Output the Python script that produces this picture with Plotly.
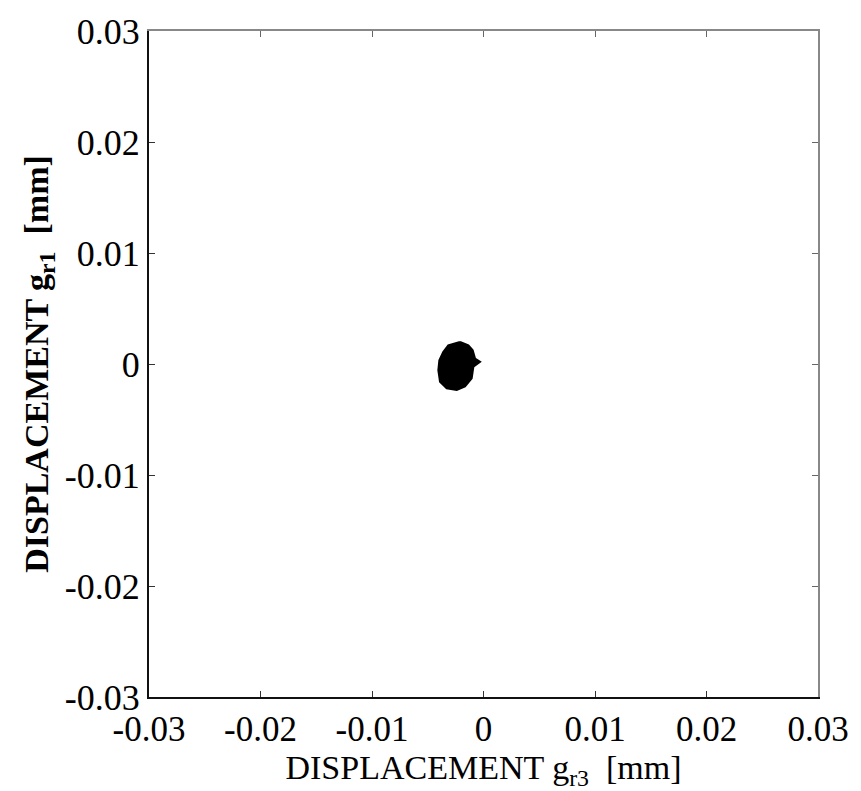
import plotly.graph_objects as go

# Outline of the orbit trace (displacements in mm), traced around its edge
orbit_x = [-0.00211, -0.00316, -0.00361, -0.00396, -0.00405, -0.00390, -0.00330,
           -0.00240, -0.00166, -0.00106, -0.00091, -0.00031, -0.00076, -0.00097,
           -0.00136, -0.00211]
orbit_y = [0.00198, 0.00168, 0.00109, 0.00034, -0.00055, -0.00159, -0.00218,
           -0.00234, -0.00203, -0.00129, -0.00025, 0.00020, 0.00049, 0.00123,
           0.00168, 0.00198]

tick_vals = [-0.03, -0.02, -0.01, 0, 0.01, 0.02, 0.03]
tick_text = ["-0.03", "-0.02", "-0.01", "0", "0.01", "0.02", "0.03"]

fig = go.Figure()
fig.add_trace(go.Scatter(
    x=orbit_x, y=orbit_y, mode="lines", fill="toself",
    fillcolor="black", line=dict(color="black", width=2),
    hoverinfo="skip", showlegend=False,
))

serif = "Liberation Serif, Times New Roman, serif"
base = dict(
    range=[-0.03, 0.03], tickvals=tick_vals,
    ticks="inside", ticklen=6, tickwidth=1,
    showline=True, linewidth=2,
    showgrid=False, zeroline=False,
)

fig.update_layout(
    width=861, height=791,
    margin=dict(l=149, r=43, t=24, b=94, pad=0),
    paper_bgcolor="white", plot_bgcolor="white",
    xaxis=dict(**base, ticktext=tick_text, linecolor="#111", tickcolor="#333",
               tickfont=dict(family=serif, size=35, color="black"),
               title=dict(text="DISPLACEMENT g<sub>r3</sub>  [mm]",
                          font=dict(family=serif, size=34, color="black"),
                          standoff=4)),
    yaxis=dict(**base, ticktext=tick_text, linecolor="#111", tickcolor="#333",
               tickfont=dict(family=serif, size=36, color="black"),
               title=dict(text="<b>DISPLACEMENT g<sub>r1</sub>  [mm]</b>",
                          font=dict(family=serif, size=34, color="black"),
                          standoff=6)),
    # lighter top and right frame edges
    xaxis2=dict(**base, overlaying="x", side="top", matches="x",
                linecolor="#888", tickcolor="#666", showticklabels=False),
    yaxis2=dict(**base, overlaying="y", side="right", matches="y",
                linecolor="#888", tickcolor="#666", showticklabels=False),
)
fig.add_trace(go.Scatter(x=[None], y=[None], xaxis="x2", yaxis="y2",
                         showlegend=False, hoverinfo="skip"))

fig.write_html("out.html")
